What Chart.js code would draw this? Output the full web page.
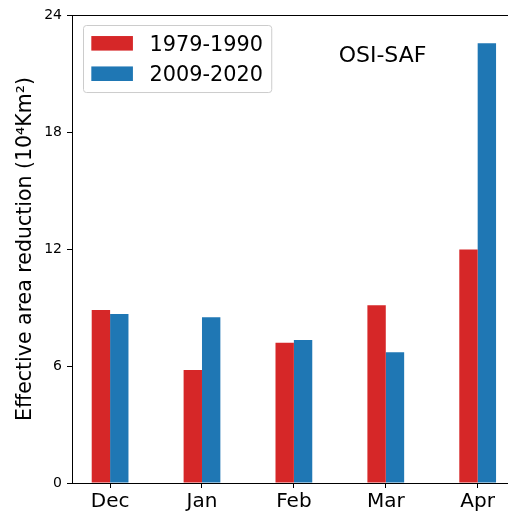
<!DOCTYPE html>
<html>
<head>
<meta charset="utf-8">
<script src="https://cdn.jsdelivr.net/npm/chart.js@4/dist/chart.umd.min.js"></script>
<style>
  body { margin: 0; background: #fff; }
  canvas { display: block; }
</style>
</head>
<body>
<canvas id="myChart" width="508" height="519"></canvas>
<script>
// months on the x axis
var months = ['Dec', 'Jan', 'Feb', 'Mar', 'Apr'];

// effective area reduction, 10^4 Km^2
var early = [8.87, 5.79, 7.19, 9.11, 11.98];   // 1979-1990
var late = [8.67, 8.5, 7.33, 6.7, 22.55];      // 2009-2020

var yTicks = [0, 6, 12, 18, 24];

var red = '#d62728';
var blue = '#1f77b4';
var font = 'DejaVu Sans';

function toPoints(arr) {
    return arr.map(function (v, i) { return { x: i, y: v }; });
}

// top spine, legend box and the OSI-SAF note
var extras = {
    id: 'extras',
    afterDraw: function (chart) {
        var ctx = chart.ctx;
        var ca = chart.chartArea;
        ctx.save();

        // top spine
        ctx.strokeStyle = '#000';
        ctx.lineWidth = 1;
        ctx.beginPath();
        ctx.moveTo(ca.left, ca.top + 0.5);
        ctx.lineTo(ca.right, ca.top + 0.5);
        ctx.stroke();

        // legend
        var fs = 20.8;
        ctx.font = fs + 'px "' + font + '"';
        var sets = chart.data.datasets;
        var textW = 0;
        sets.forEach(function (d) { textW = Math.max(textW, ctx.measureText(d.label).width); });
        var pad = 0.4 * fs, handleW = 2 * fs, handleH = 0.7 * fs, gap = 0.8 * fs, rowH = 20;
        var bx = ca.left + 11, by = ca.top + 10;
        var bw = pad + handleW + gap + textW + pad;
        var bh = pad * 2 + rowH * sets.length + 0.5 * fs * (sets.length - 1);
        ctx.beginPath();
        ctx.roundRect(bx + 0.5, by + 0.5, bw, bh, 3);
        ctx.fillStyle = 'rgba(255,255,255,0.8)';
        ctx.fill();
        ctx.strokeStyle = '#cccccc';
        ctx.stroke();
        sets.forEach(function (d, i) {
            var cy = by + pad + rowH / 2 + i * (rowH + 0.5 * fs);
            ctx.fillStyle = d.backgroundColor;
            ctx.fillRect(bx + pad, cy - handleH / 2, handleW, handleH);
            ctx.fillStyle = '#000';
            ctx.textAlign = 'left';
            ctx.textBaseline = 'alphabetic';
            ctx.fillText(d.label, bx + pad + handleW + gap, cy + 0.36 * fs);
        });

        // note
        var xs = chart.scales.x, ys = chart.scales.y;
        ctx.font = '22px "' + font + '"';
        ctx.fillStyle = '#000';
        ctx.fillText('OSI-SAF', xs.getPixelForValue(2.487), ys.getPixelForValue(21.6));
        ctx.restore();
    }
};

var ctx = document.getElementById('myChart').getContext('2d');
var chart = new Chart(ctx, {
    type: 'bar',
    data: {
        datasets: [{
            label: '1979-1990',
            backgroundColor: red,
            data: toPoints(early)
        }, {
            label: '2009-2020',
            backgroundColor: blue,
            data: toPoints(late)
        }]
    },
    options: {
        responsive: false,
        animation: false,
        categoryPercentage: 0.4,
        barPercentage: 1,
        layout: { padding: { top: 15, left: 0, right: 0, bottom: 0 } },
        plugins: {
            legend: { display: false },
            tooltip: { enabled: false }
        },
        scales: {
            x: {
                type: 'linear',
                offset: false,
                min: -0.4145,
                max: 4.33,
                afterBuildTicks: function (scale) {
                    scale.ticks = months.map(function (m, i) { return { value: i }; });
                },
                afterFit: function (scale) { scale.height = 36; },
                ticks: {
                    padding: 2,
                    color: '#000',
                    font: { family: font, size: 20, lineHeight: 1.2 },
                    callback: function (v) { return months[v]; }
                },
                grid: { offset: false, drawOnChartArea: false, drawTicks: true, tickLength: 5, color: '#000' },
                border: { display: true, color: '#000', width: 1 }
            },
            y: {
                min: 0,
                max: 24,
                afterBuildTicks: function (scale) {
                    scale.ticks = yTicks.map(function (v) { return { value: v }; });
                },
                afterFit: function (scale) { scale.width = 72; },
                ticks: {
                    padding: 5,
                    color: '#000',
                    font: { family: font, size: 14 }
                },
                title: {
                    display: true,
                    text: 'Effective area reduction (10\u2074Km\u00b2)',
                    color: '#000',
                    font: { family: font, size: 20.5, lineHeight: 1.2 },
                    padding: { top: 13, bottom: 0 }
                },
                grid: { drawOnChartArea: false, drawTicks: true, tickLength: 5, color: '#000' },
                border: { display: true, color: '#000', width: 1 }
            }
        }
    },
    plugins: [extras]
});
</script>
</body>
</html>
